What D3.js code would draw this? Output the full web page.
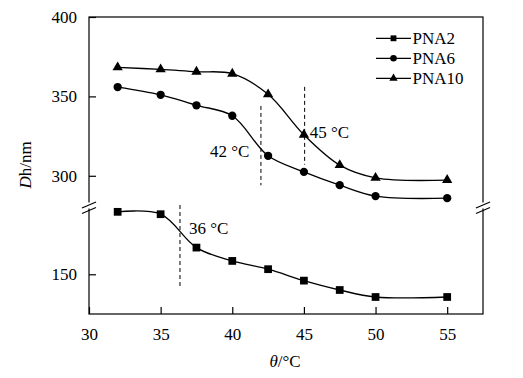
<!DOCTYPE html>
<html><head><meta charset="utf-8">
<script src="https://cdn.jsdelivr.net/npm/d3@7"></script>
<style>body{margin:0;background:#fff}svg{display:block}text{font-family:"Liberation Serif","Times New Roman",serif;fill:#000}</style>
</head><body><svg id="c" width="523" height="378"></svg>
<script>
const temps = [32, 35, 37.5, 40, 42.5, 45, 47.5, 50, 55];
const pna2 = [189.3, 187.8, 166.8, 158.4, 153.2, 146.0, 140.1, 135.7, 135.7];
const pna6 = [355.9, 351.0, 344.4, 337.8, 312.6, 302.5, 294.1, 287.2, 285.9];
const pna10 = [368.3, 367.0, 365.5, 364.3, 351.3, 325.8, 306.7, 298.7, 297.3];
const seriesNames = ["PNA2", "PNA6", "PNA10"];
const xTicks = [30, 35, 40, 45, 50, 55];
const yTicks = [150, 300, 350, 400];
const transitions = [
  {label: "36 °C", x: 36.35, y0: 194, y1: 142},
  {label: "42 °C", x: 42.0, y0: 344, y1: 294},
  {label: "45 °C", x: 45.05, y0: 356, y1: 307}
];

const svg = d3.select("#c");
const L = 89, R = 483, T = 17, B = 314, BR = 205;
const x = d3.scaleLinear().domain([30, 57.5]).range([L, R]);
// broken axis: lower segment and upper segment share the same px/unit
const y = d3.scaleLinear().domain([125, 193.6, 281.6, 400]).range([B, BR, BR, T]);

// frame
svg.append("rect").attr("x", L).attr("y", T).attr("width", R - L).attr("height", B - T)
  .attr("fill", "none").attr("stroke", "#000").attr("stroke-width", 1.2);

// axes with inward ticks
const xAxis = d3.axisBottom(x).tickValues(xTicks).tickSizeInner(-7).tickSizeOuter(0).tickPadding(14);
const gx = svg.append("g").attr("transform", `translate(0,${B})`).call(xAxis);
gx.select(".domain").remove();
gx.selectAll("line").attr("stroke", "#000").attr("stroke-width", 1.2);
gx.selectAll("text").attr("font-size", 17).attr("dy", "0.71em");

const yAxis = d3.axisLeft(y).tickValues(yTicks).tickSizeInner(-7).tickSizeOuter(0).tickPadding(12);
const gy = svg.append("g").attr("transform", `translate(${L},0)`).call(yAxis);
gy.select(".domain").remove();
gy.selectAll("line").attr("stroke", "#000").attr("stroke-width", 1.2);
gy.selectAll("text").attr("font-size", 17);

// break marks
[L, R].forEach(ax => {
  svg.append("rect").attr("x", ax - 3).attr("y", 202.5).attr("width", 6).attr("height", 6).attr("fill", "#fff");
  [0, 5.5].forEach(off => {
    svg.append("line").attr("x1", ax - 7).attr("y1", 208 + off).attr("x2", ax + 7).attr("y2", 202 + off)
      .attr("stroke", "#000").attr("stroke-width", 1.2);
  });
});

// dashed transition lines & labels
transitions.forEach(t => {
  svg.append("line").attr("x1", x(t.x)).attr("x2", x(t.x)).attr("y1", y(t.y0)).attr("y2", y(t.y1))
    .attr("stroke", "#000").attr("stroke-width", 1).attr("stroke-dasharray", "4,3");
});
svg.append("text").attr("x", x(36.35) + 9).attr("y", 234).attr("font-size", 17).text(transitions[0].label);
svg.append("text").attr("x", x(42.0) - 51).attr("y", 157).attr("font-size", 17).text(transitions[1].label);
svg.append("text").attr("x", x(45.05) + 5).attr("y", 138).attr("font-size", 17).text(transitions[2].label);

// series
const data = [pna2, pna6, pna10];
const line = d3.line().x((d, i) => x(temps[i])).y(d => y(d)).curve(d3.curveCatmullRom.alpha(0.5));
const sym = [d3.symbolSquare, d3.symbolCircle, d3.symbolTriangle];
const sizes = [60, 54, 46];
data.forEach((vals, k) => {
  svg.append("path").datum(vals).attr("d", line).attr("fill", "none").attr("stroke", "#000").attr("stroke-width", 1.3);
  svg.append("g").selectAll("path").data(vals).join("path")
    .attr("transform", (d, i) => `translate(${x(temps[i])},${y(d)})`)
    .attr("d", d3.symbol().type(sym[k]).size(sizes[k])).attr("fill", "#000");
});

// legend
const legY = [38.3, 58.3, 78.3];
const legSizes = [34, 34, 30];
seriesNames.forEach((n, k) => {
  const g = svg.append("g");
  g.append("line").attr("x1", 376).attr("x2", 411).attr("y1", legY[k]).attr("y2", legY[k]).attr("stroke", "#000").attr("stroke-width", 1.2);
  g.append("path").attr("transform", `translate(393.5,${legY[k]})`).attr("d", d3.symbol().type(sym[k]).size(legSizes[k])).attr("fill", "#000");
  g.append("text").attr("x", 412.5).attr("y", legY[k]).attr("dy", "0.35em").attr("font-size", 17).text(n);
});

// axis titles
const yt = svg.append("text").attr("transform", "translate(31,165) rotate(-90)").attr("text-anchor", "middle").attr("font-size", 17);
yt.append("tspan").attr("font-style", "italic").text("D");
yt.append("tspan").text("h/nm");
const xt = svg.append("text").attr("x", 285).attr("y", 367).attr("text-anchor", "middle").attr("font-size", 17);
xt.append("tspan").attr("font-style", "italic").text("θ");
xt.append("tspan").text("/°C");
</script></body></html>
